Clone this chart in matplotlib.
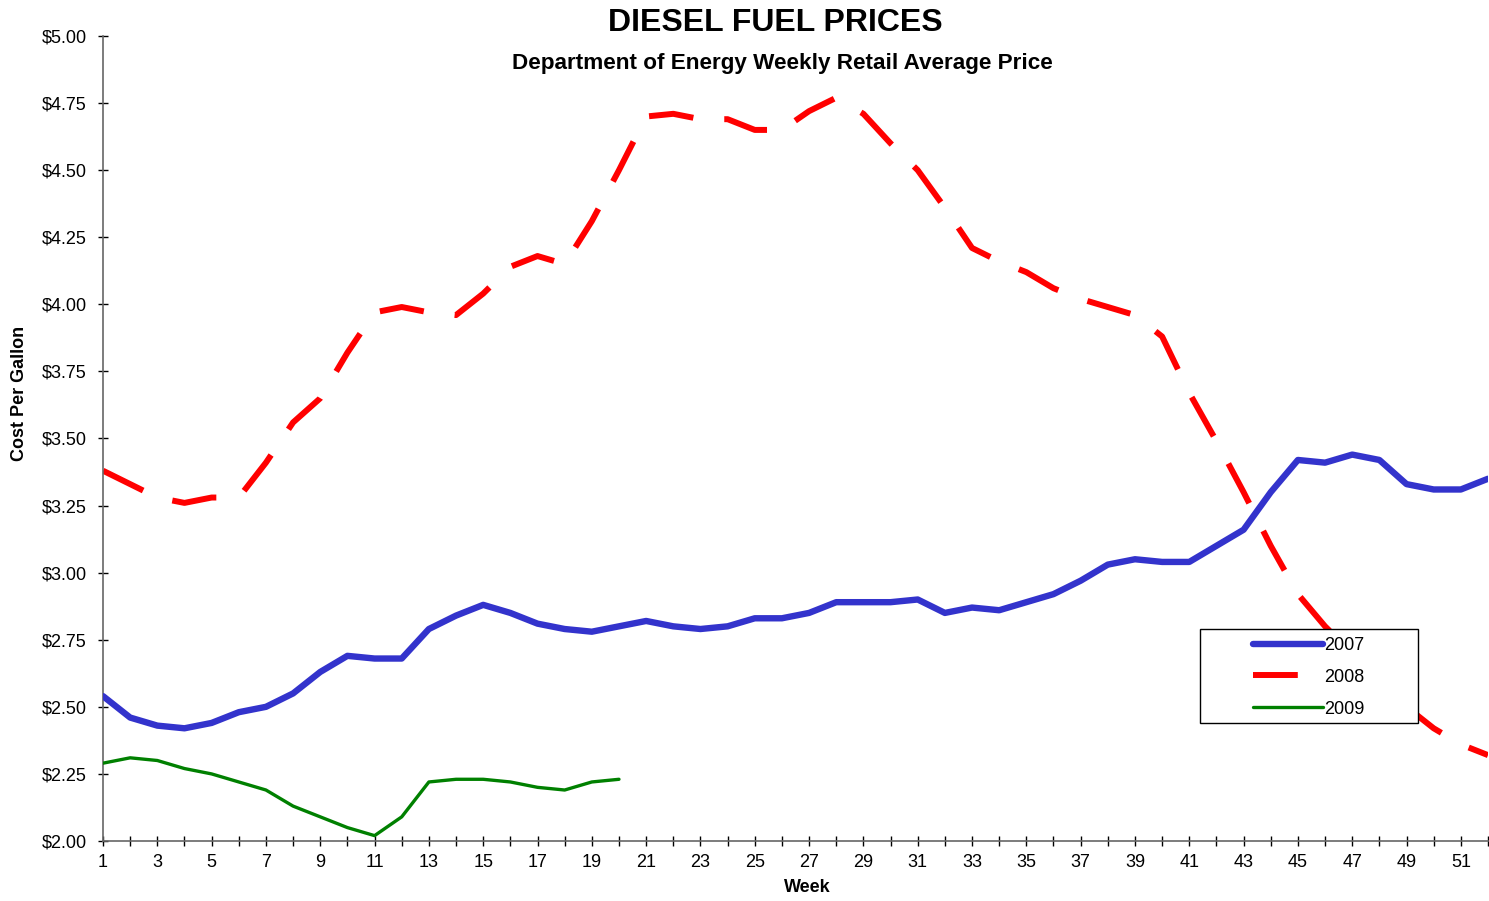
import numpy as np
import matplotlib
matplotlib.use('Agg')
import matplotlib.pyplot as plt
from matplotlib.patches import Rectangle
from matplotlib.ticker import FuncFormatter, MultipleLocator

plt.rcParams['font.family'] = ['Liberation Sans', 'DejaVu Sans']

W, H = 1489, 901

weeks = np.arange(1, 53)
price_2007 = [2.54, 2.46, 2.43, 2.42, 2.44, 2.48, 2.50, 2.55, 2.63, 2.69,
              2.68, 2.68, 2.79, 2.84, 2.88, 2.85, 2.81, 2.79, 2.78, 2.80,
              2.82, 2.80, 2.79, 2.80, 2.83, 2.83, 2.85, 2.89, 2.89, 2.89,
              2.90, 2.85, 2.87, 2.86, 2.89, 2.92, 2.97, 3.03, 3.05, 3.04,
              3.04, 3.10, 3.16, 3.30, 3.42, 3.41, 3.44, 3.42, 3.33, 3.31,
              3.31, 3.35]
price_2008 = [3.38, 3.33, 3.28, 3.26, 3.28, 3.28, 3.41, 3.56, 3.65, 3.82,
              3.97, 3.99, 3.97, 3.96, 4.04, 4.14, 4.18, 4.15, 4.31, 4.50,
              4.70, 4.71, 4.69, 4.69, 4.65, 4.65, 4.72, 4.77, 4.71, 4.60,
              4.50, 4.36, 4.21, 4.16, 4.12, 4.06, 4.02, 3.99, 3.96, 3.88,
              3.67, 3.49, 3.30, 3.10, 2.92, 2.80, 2.70, 2.60, 2.50, 2.42,
              2.36, 2.32]
weeks_2009 = np.arange(1, 21)
price_2009 = [2.29, 2.31, 2.30, 2.27, 2.25, 2.22, 2.19, 2.13, 2.09, 2.05,
              2.02, 2.09, 2.22, 2.23, 2.23, 2.22, 2.20, 2.19, 2.22, 2.23]

fig = plt.figure(figsize=(W / 100, H / 100), dpi=100)
ax = fig.add_axes([103 / W, 1 - 841 / H, (1488 - 103) / W, (841 - 36) / H])

ax.plot(weeks, price_2007, color='#3333CC', lw=4.6, label='2007',
        solid_capstyle='round', solid_joinstyle='round', zorder=3)
ax.plot(weeks, price_2008, color='#FF0000', lw=4.3, label='2008',
        dashes=(7.5, 5.2), dash_capstyle='butt', zorder=2)
ax.plot(weeks_2009, price_2009, color='#008000', lw=2.4, label='2009',
        solid_capstyle='round', zorder=3)

ax.set_xlim(1, 52)
ax.set_ylim(2.0, 5.0)
ax.xaxis.set_major_locator(MultipleLocator(1))
ax.xaxis.set_major_formatter(FuncFormatter(lambda v, p: f'{int(v)}' if int(v) % 2 == 1 else ''))
ax.yaxis.set_major_locator(MultipleLocator(0.25))
ax.yaxis.set_major_formatter(FuncFormatter(lambda v, p: f'${v:.2f}'))
ax.tick_params(axis='both', direction='inout', length=7, width=1, color='black',
               labelsize=13)
ax.tick_params(axis='x', pad=6)
ax.tick_params(axis='y', pad=8)

for s in ['top', 'right']:
    ax.spines[s].set_visible(False)
for s in ['left', 'bottom']:
    ax.spines[s].set_color('#666666')
    ax.spines[s].set_linewidth(1.2)

fig.text(775 / W, 1 - 23 / H, 'DIESEL FUEL PRICES', ha='center', va='center',
         fontsize=23, fontweight='bold')
fig.text(782 / W, 1 - 64 / H, 'Department of Energy Weekly Retail Average Price',
         ha='center', va='center', fontsize=16.2, fontweight='bold')
fig.text(807 / W, 1 - 888 / H, 'Week', ha='center', va='center',
         fontsize=13, fontweight='bold')
fig.text(20 / W, 1 - 393 / H, 'Cost Per Gallon', ha='center', va='center',
         rotation=90, fontsize=13, fontweight='bold')

# legend box drawn by hand so the padding matches
box = Rectangle((1200 / W, 1 - 723 / H), 218 / W, 94 / H, transform=fig.transFigure,
                facecolor='white', edgecolor='black', lw=1, zorder=4, clip_on=False)
ax.add_patch(box)
leg = ax.legend(loc='upper left', bbox_to_anchor=(1253 / W, 1 - 637 / H),
                bbox_transform=fig.transFigure, frameon=False, fontsize=13,
                handlelength=3.9, handletextpad=0.05, labelspacing=0.82,
                borderpad=0, borderaxespad=0)
leg.set_zorder(5)

fig.savefig('out.png', dpi=100)
